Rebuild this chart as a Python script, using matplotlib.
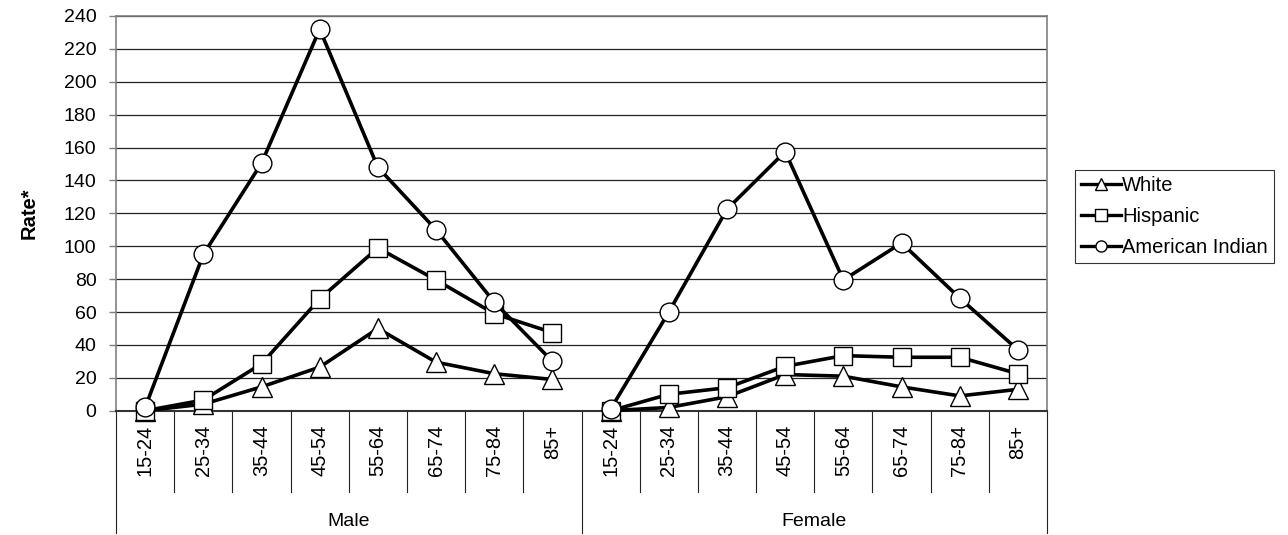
import numpy as np
import matplotlib
matplotlib.use("Agg")
from matplotlib import pyplot as plt
from matplotlib.lines import Line2D
import matplotlib.transforms as mtransforms

plt.rcParams['font.family'] = ['Liberation Sans', 'DejaVu Sans']

# data
ages = ['15-24', '25-34', '35-44', '45-54', '55-64', '65-74', '75-84', '85+']
groups = ['Male', 'Female']

white_male = [0, 4, 14.5, 26.5, 50, 29.5, 22.5, 19]
white_female = [0, 2, 8.5, 22, 21, 14.5, 9, 13]
hisp_male = [0, 6.5, 28.5, 68, 99, 79.5, 59, 47.5]
hisp_female = [0, 10, 14, 27, 33.5, 32.5, 32.5, 22.5]
ai_male = [2, 95, 150.5, 232, 148, 110, 66, 30]
ai_female = [1, 60, 122.5, 157.5, 79.5, 102, 68.5, 37]

series = [
    ('White', '^', white_male, white_female),
    ('Hispanic', 's', hisp_male, hisp_female),
    ('American Indian', 'o', ai_male, ai_female),
]

fig = plt.figure(figsize=(12.88, 5.35), dpi=100)
ax = fig.add_axes([0.0901, 0.2323, 0.7228, 0.7378])

n = len(ages)
x_male = np.arange(n)
x_female = np.arange(n) + n

msize = {'^': 14, 's': 12.5, 'o': 13.5}
for z, (name, mk, m_vals, f_vals) in enumerate(series):
    for xs, vals in [(x_male, m_vals), (x_female, f_vals)]:
        ax.plot(xs, vals, color='black', lw=2.6, marker=mk, ms=msize[mk],
                mfc='white', mec='black', mew=1.0, zorder=3 + z, clip_on=False)

ax.set_xlim(-0.5, 2 * n - 0.5)
ax.set_ylim(0, 240)
ax.set_yticks(np.arange(0, 241, 20))
ax.tick_params(axis='y', length=5, width=1, color='#808080', labelsize=14, pad=9)
ax.set_xticks([])
ax.yaxis.grid(True, color='#222222', lw=0.9)
ax.set_axisbelow(True)
for s in ['top', 'right', 'left']:
    ax.spines[s].set_color('#808080')
    ax.spines[s].set_linewidth(1.2)
ax.spines['bottom'].set_color('#333333')
ax.spines['bottom'].set_linewidth(1.5)

ax.set_ylabel('Rate*', fontsize=14.5, fontweight='bold', labelpad=18)

# category axis drawn by hand
trans = mtransforms.blended_transform_factory(ax.transData, ax.transAxes)
labels = ages + ages
for i, lab in enumerate(labels):
    ax.text(i, -0.036, lab, transform=trans, rotation=90, ha='center', va='top',
            fontsize=14.5)
for i in range(2 * n + 1):
    x = i - 0.5
    bottom = -0.31 if i % n == 0 else -0.207
    ax.plot([x, x], [0, bottom], transform=trans, color='#222222', lw=0.8,
            clip_on=False)
for g, name in enumerate(groups):
    ax.text(g * n + (n - 1) / 2, -0.281, name, transform=trans, ha='center',
            va='center', fontsize=14)

handles = [Line2D([], [], color='black', lw=2.4, marker=mk, ms=8, mfc='white',
                  mec='black', mew=1.0, label=name)
           for name, mk, _, _ in series]
leg = fig.legend(handles=handles, loc='upper left',
                 bbox_to_anchor=(1075 / 1288, 1 - 170 / 535), frameon=True,
                 fancybox=False, edgecolor='black', fontsize=14.5,
                 handlelength=2.0, handletextpad=0.05, borderpad=0.3,
                 labelspacing=0.6, borderaxespad=0)
leg.get_frame().set_linewidth(0.8)

fig.savefig('out.png', dpi=100)
